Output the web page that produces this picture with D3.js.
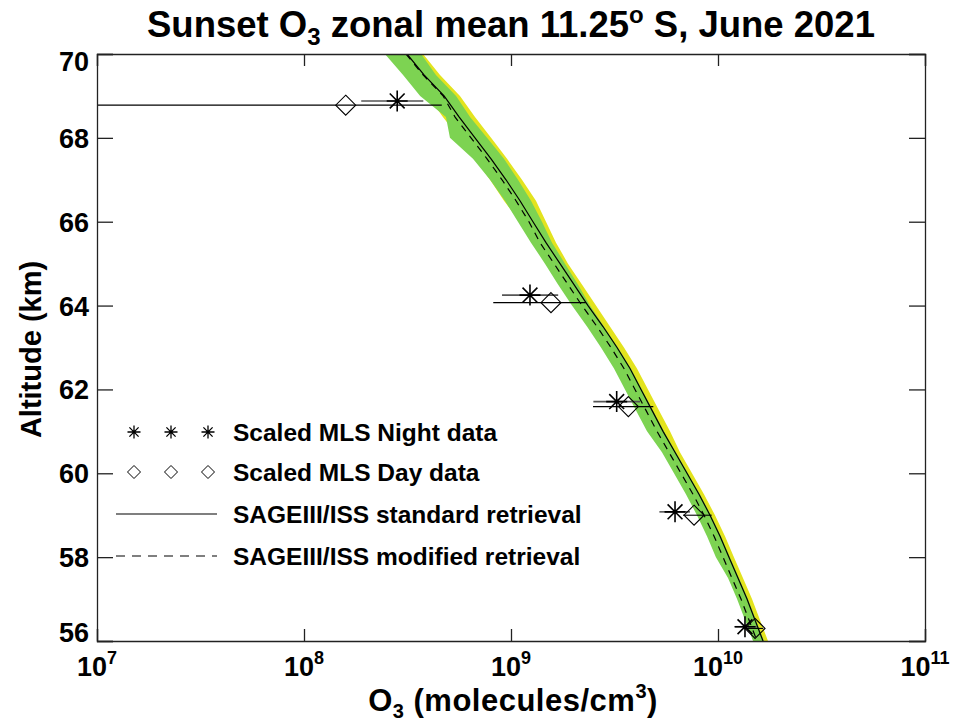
<!DOCTYPE html>
<html><head><meta charset="utf-8">
<script src="https://cdn.jsdelivr.net/npm/d3@7"></script>
<style>body{margin:0;background:#fff} svg{display:block;font-family:"Liberation Sans",Arial,Helvetica,sans-serif;font-weight:bold}</style>
</head><body><svg id="c" width="954" height="722"></svg>
<script>
// ---- data ----
const altitudes = [70,69.5,69,68.5,68,67.5,67,66.5,66,65.5,65,64.5,64,63.5,63,62.5,62,61.5,61,60.5,60,59.5,59,58.5,58,57.5,57,56.5,56];
const stdRetrieval = [3.145e8,3.80e8,4.75e8,5.61e8,6.70e8,8.01e8,9.46e8,1.105e9,1.277e9,1.476e9,1.725e9,2.016e9,2.355e9,2.782e9,3.252e9,3.757e9,4.246e9,4.80e9,5.425e9,6.198e9,7.085e9,8.094e9,9.15e9,1.023e10,1.13e10,1.249e10,1.381e10,1.509e10,1.65e10];
const modRetrieval = [3.11e8,3.76e8,4.70e8,5.36e8,6.41e8,7.66e8,9.05e8,1.057e9,1.221e9,1.381e9,1.614e9,1.885e9,2.203e9,2.602e9,3.041e9,3.514e9,3.972e9,4.49e9,5.074e9,5.798e9,6.627e9,7.571e9,8.559e9,9.57e9,1.057e10,1.168e10,1.292e10,1.412e10,1.543e10];
const stdLow = [2.63e8,3.18e8,3.97e8,4.69e8,5.61e8,6.70e8,7.92e8,9.25e8,1.105e9,1.321e9,1.578e9,1.844e9,2.155e9,2.573e9,3.007e9,3.475e9,3.928e9,4.44e9,5.017e9,5.863e9,6.702e9,7.657e9,8.656e9,9.68e9,1.069e10,1.182e10,1.306e10,1.428e10,1.561e10];
const stdHigh = [3.76e8,4.54e8,5.67e8,6.70e8,8.01e8,9.57e8,1.13e9,1.32e9,1.476e9,1.65e9,1.885e9,2.202e9,2.574e9,3.007e9,3.514e9,4.061e9,4.59e9,5.189e9,5.863e9,6.551e9,7.489e9,8.555e9,9.672e9,1.081e10,1.194e10,1.32e10,1.46e10,1.595e10,1.744e10];
const modLow = [2.46e8,3.01e8,3.64e8,4.85e8,5.07e8,6.55e8,7.92e8,9.35e8,1.08e9,1.249e9,1.459e9,1.687e9,1.971e9,2.329e9,2.721e9,3.145e9,3.554e9,4.018e9,4.54e9,5.361e9,6.129e9,7.001e9,7.915e9,8.849e9,9.77e9,1.118e10,1.236e10,1.351e10,1.477e10];
const modHigh = [3.68e8,4.34e8,5.43e8,6.34e8,7.66e8,9.25e8,1.081e9,1.249e9,1.411e9,1.578e9,1.823e9,2.106e9,2.408e9,2.813e9,3.287e9,3.799e9,4.294e9,4.854e9,5.485e9,6.267e9,7.164e9,8.185e9,9.252e9,1.034e10,1.143e10,1.263e10,1.396e10,1.526e10,1.668e10];

const nightAlt  = [68.88, 64.25, 61.71, 59.08, 56.34];
const nightO3   = [2.82e8, 1.235e9, 3.24e9, 6.20e9, 1.35e10];
const nightLow  = [1.89e8, 9.05e8, 2.50e9, 5.21e9, 1.21e10];
const nightHigh = [3.77e8, 1.69e9, 4.20e9, 7.32e9, 1.54e10];
const dayAlt    = [68.78, 64.07, 61.59, 59.0, 56.30];
const dayO3     = [1.59e8, 1.56e9, 3.69e9, 7.66e9, 1.51e10];
const dayLow    = [5e6, 8.21e8, 2.49e9, 6.78e9, 1.38e10];
const dayHigh   = [4.63e8, 2.30e9, 4.87e9, 9.32e9, 1.655e10];

const xTickValues = [1e7, 1e8, 1e9, 1e10, 1e11];
const xTickExponents = ["7", "8", "9", "10", "11"];
const yTickValues = [56, 58, 60, 62, 64, 66, 68, 70];
const legendLabels = ["Scaled MLS Night data", "Scaled MLS Day data", "SAGEIII/ISS standard retrieval", "SAGEIII/ISS modified retrieval"];

// ---- layout ----
const L = 97, R = 925, T = 54, B = 641;
const svg = d3.select('#c');
const x = d3.scaleLog().domain([1e7, 1e11]).range([L, R]);
const y = d3.scaleLinear().domain([56, 70]).range([B, T]);

svg.append('defs').append('clipPath').attr('id', 'clip')
  .append('rect').attr('x', L).attr('y', T).attr('width', R - L).attr('height', B - T);
const g = svg.append('g').attr('clip-path', 'url(#clip)');

const rows = altitudes.map((a, i) => ({a, s: stdRetrieval[i], m: modRetrieval[i], sl: stdLow[i], sh: stdHigh[i], ml: modLow[i], mh: modHigh[i]}));

g.append('path').datum(rows)
  .attr('d', d3.area().y(d => y(d.a)).x0(d => x(d.sl)).x1(d => x(d.sh)))
  .attr('fill', '#e3e31e');
g.append('path').datum(rows)
  .attr('d', d3.area().y(d => y(d.a)).x0(d => x(d.ml)).x1(d => x(d.mh)))
  .attr('fill', '#7dd352');
g.append('path').datum(rows)
  .attr('d', d3.line().x(d => x(d.s)).y(d => y(d.a)))
  .attr('fill', 'none').attr('stroke', '#000').attr('stroke-width', 1.2);
g.append('path').datum(rows)
  .attr('d', d3.line().x(d => x(d.m)).y(d => y(d.a)))
  .attr('fill', 'none').attr('stroke', '#000').attr('stroke-width', 1.2).attr('stroke-dasharray', '7,6');

// error bars
const night = nightAlt.map((a, i) => ({a, v: nightO3[i], lo: nightLow[i], hi: nightHigh[i]}));
const day = dayAlt.map((a, i) => ({a, v: dayO3[i], lo: dayLow[i], hi: dayHigh[i]}));

g.selectAll('line.nb').data(night).join('line').attr('class', 'nb')
  .attr('x1', d => x(d.lo)).attr('x2', d => x(d.hi)).attr('y1', d => y(d.a)).attr('y2', d => y(d.a))
  .attr('stroke', '#555').attr('stroke-width', 1.6);
g.selectAll('line.db').data(day).join('line').attr('class', 'db')
  .attr('x1', d => Math.max(L, x(d.lo))).attr('x2', d => x(d.hi)).attr('y1', d => y(d.a)).attr('y2', d => y(d.a))
  .attr('stroke', '#000').attr('stroke-width', 1.1);

function asterisk(r) {
  const q = r * Math.SQRT1_2;
  return `M${-r},0L${r},0M0,${-r}L0,${r}M${-q},${-q}L${q},${q}M${-q},${q}L${q},${-q}`;
}
function diamond(r) { return `M0,${-r}L${r},0L0,${r}L${-r},0Z`; }

g.selectAll('path.nm').data(night).join('path').attr('class', 'nm')
  .attr('transform', d => `translate(${x(d.v)},${y(d.a)})`)
  .attr('d', asterisk(10.5)).attr('stroke', '#000').attr('stroke-width', 1.6).attr('fill', 'none');
g.selectAll('path.dm').data(day).join('path').attr('class', 'dm')
  .attr('transform', d => `translate(${x(d.v)},${y(d.a)})`)
  .attr('d', diamond(10)).attr('stroke', '#000').attr('stroke-width', 1.1).attr('fill', 'none');

// ---- axes ----
const axStroke = '#222';
const xb = svg.append('g').attr('transform', `translate(0,${B})`)
  .call(d3.axisBottom(x).tickValues(xTickValues).tickSize(-12).tickFormat(''));
const xt = svg.append('g').attr('transform', `translate(0,${T})`)
  .call(d3.axisTop(x).tickValues(xTickValues).tickSize(-12).tickFormat(''));
const yl = svg.append('g').attr('transform', `translate(${L},0)`)
  .call(d3.axisLeft(y).tickValues(yTickValues).tickSize(-16).tickPadding(8).tickFormat(d3.format('d')));
const yr = svg.append('g').attr('transform', `translate(${R},0)`)
  .call(d3.axisRight(y).tickValues(yTickValues).tickSize(-16).tickFormat(''));
[xb, xt, yl, yr].forEach(a => {
  a.select('.domain').attr('stroke', axStroke).attr('stroke-width', 1.3);
  a.selectAll('.tick line').attr('stroke', axStroke).attr('stroke-width', 1.3);
});
yl.selectAll('.tick text')
  .attr('font-size', 27).attr('font-weight', 'bold').attr('fill', '#000')
  .attr('font-family', '"Liberation Sans",Arial,sans-serif')
  .attr('dy', d => d === 70 ? '0.62em' : (d === 56 ? '0em' : '0.35em'));

// x tick labels with exponents
xTickValues.forEach((v, i) => {
  const t = svg.append('text').attr('x', x(v)).attr('y', 676).attr('text-anchor', 'middle')
    .attr('font-size', 27);
  t.append('tspan').text('10');
  t.append('tspan').attr('font-size', 18).attr('dy', -12).text(xTickExponents[i]);
});

// title
const title = svg.append('text').attr('x', (L + R) / 2).attr('y', 37).attr('text-anchor', 'middle').attr('font-size', 36.5);
title.append('tspan').text('Sunset O');
title.append('tspan').attr('font-size', 24).attr('dy', 8).text('3');
title.append('tspan').attr('dy', -8).text(' zonal mean 11.25');
title.append('tspan').attr('font-size', 24).attr('dy', -14).text('o');
title.append('tspan').attr('dy', 14).text(' S, June 2021');

// axis titles
const xtitle = svg.append('text').attr('x', (L + R) / 2 + 2).attr('y', 711).attr('text-anchor', 'middle')
  .attr('font-size', 31).attr('letter-spacing', 0.5);
xtitle.append('tspan').text('O');
xtitle.append('tspan').attr('font-size', 20).attr('dy', 7).text('3');
xtitle.append('tspan').attr('dy', -7).text(' (molecules/cm');
xtitle.append('tspan').attr('font-size', 20).attr('dy', -13).text('3');
xtitle.append('tspan').attr('dy', 13).text(')');

svg.append('text').attr('transform', `translate(41,${(T + B) / 2 + 2}) rotate(-90)`)
  .attr('text-anchor', 'middle').attr('font-size', 29).text('Altitude (km)');

// ---- legend ----
const legY = [432, 472, 514, 556];
const symX = [134, 171, 208];
const lg = svg.append('g');
symX.forEach(sx => {
  lg.append('path').attr('transform', `translate(${sx},${legY[0]})`).attr('d', asterisk(6.5))
    .attr('stroke', '#000').attr('stroke-width', 1.3).attr('fill', 'none');
  lg.append('path').attr('transform', `translate(${sx},${legY[1]})`).attr('d', diamond(6.5))
    .attr('stroke', '#000').attr('stroke-width', 1).attr('fill', 'none');
});
lg.append('line').attr('x1', 116).attr('x2', 217).attr('y1', legY[2]).attr('y2', legY[2])
  .attr('stroke', '#000').attr('stroke-width', 1.2);
lg.append('line').attr('x1', 116).attr('x2', 217).attr('y1', legY[3]).attr('y2', legY[3])
  .attr('stroke', '#000').attr('stroke-width', 1.2).attr('stroke-dasharray', '9,7');
legendLabels.forEach((t, i) => {
  lg.append('text').attr('x', 233).attr('y', legY[i] + 8.5).attr('font-size', 24.5).text(t);
});
</script>
</body></html>
